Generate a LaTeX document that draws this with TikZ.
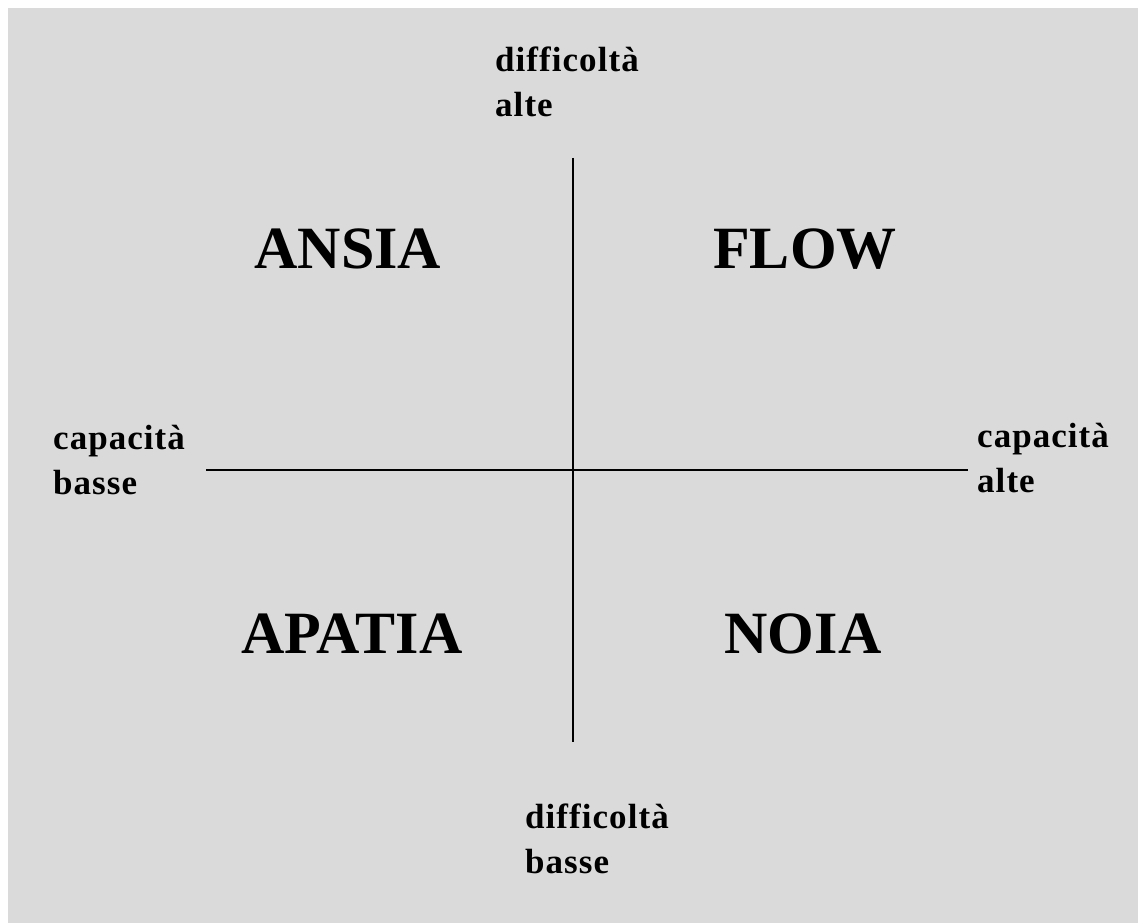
\documentclass[tikz,border=0pt]{standalone}
\usepackage{fontspec}
\setmainfont{Liberation Serif}
\definecolor{bggray}{HTML}{DADADA}

\begin{document}
\begin{tikzpicture}[x=1pt,y=-1pt,
  axislabel/.style={font=\bfseries\fontsize{35}{45}\selectfont\addfontfeature{LetterSpace=3}, align=left, anchor=base west, inner sep=0pt},
  mood/.style={font=\bfseries\fontsize{60}{60}\selectfont, anchor=base, inner sep=0pt},
  axis/.style={line width=1.6pt}]
  % Background with white strip on top and left
  \fill[white] (0,0) rectangle (1138,923);
  \fill[bggray] (8,8) rectangle (1138,923);

  % Axis end points
  \coordinate (top) at (573,158);
  \coordinate (bottom) at (573,742);
  \coordinate (left) at (206,470);
  \coordinate (right) at (968,470);

  % Draw the two axes
  \draw[axis] (top) -- (bottom);
  \draw[axis] (left) -- (right);

  % Axis labels (anchored on the baseline of the last line)
  \node[axislabel] (diffhigh) at (495,117) {difficoltà\\alte};
  \node[axislabel] (difflow) at (525,873) {difficoltà\\basse};
  \node[axislabel] (caplow) at (53,494) {capacità\\basse};
  \node[axislabel] (caphigh) at (977,492) {capacità\\alte};

  % Quadrant names
  \node[mood] (ansia) at (348,268) {ANSIA};
  \node[mood] (flow) at (805,268) {FLOW};
  \node[mood] (apatia) at (352,653) {APATIA};
  \node[mood] (noia) at (803,653) {NOIA};
\end{tikzpicture}
\end{document}
